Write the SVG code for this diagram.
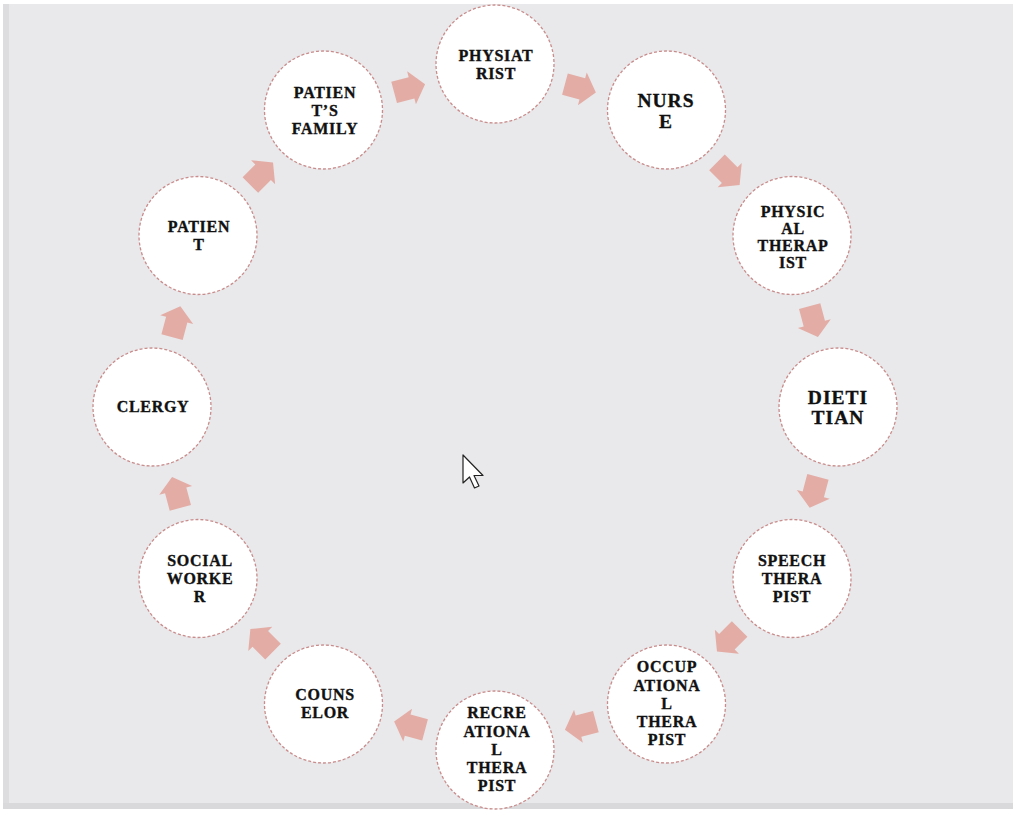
<svg xmlns="http://www.w3.org/2000/svg" width="1016" height="818" viewBox="0 0 1016 818">
<style>
.n{fill:#ffffff;stroke:#c98c8c;stroke-width:1.3;stroke-dasharray:3 2}
.t{font-family:"Liberation Serif","Times New Roman",serif;font-weight:bold;font-size:16px;letter-spacing:0.7px;fill:#111111;stroke:#111111;stroke-width:0.35;text-anchor:middle}
.b{font-size:19.5px;letter-spacing:1px}
.a{fill:#e3aca5}
</style>
<defs>
<path id="arr" d="M-16,-11 L2,-11 L2,-17 L16,0 L2,17 L2,11 L-16,11 Z"/>
</defs>
<rect x="0" y="0" width="1016" height="818" fill="#ffffff"/>
<rect x="3" y="4" width="1010" height="805" fill="#e9e8ea"/>
<rect x="3" y="4" width="6" height="805" fill="#dddcde"/>
<rect x="3" y="803" width="1010" height="6" fill="#d9d8da"/>
<g id="connectors">
<use href="#arr" class="a" transform="translate(580.4,88.3) rotate(15)"/>
<use href="#arr" class="a" transform="translate(728.3,173.7) rotate(45)"/>
<use href="#arr" class="a" transform="translate(813.8,321.6) rotate(75)"/>
<use href="#arr" class="a" transform="translate(813.8,492.4) rotate(105)"/>
<use href="#arr" class="a" transform="translate(728.3,640.3) rotate(135)"/>
<use href="#arr" class="a" transform="translate(580.4,725.7) rotate(165)"/>
<use href="#arr" class="a" transform="translate(409.6,725.7) rotate(195)"/>
<use href="#arr" class="a" transform="translate(261.7,640.3) rotate(225)"/>
<use href="#arr" class="a" transform="translate(176.2,492.4) rotate(255)"/>
<use href="#arr" class="a" transform="translate(176.2,321.6) rotate(285)"/>
<use href="#arr" class="a" transform="translate(261.7,173.7) rotate(315)"/>
<use href="#arr" class="a" transform="translate(409.6,88.3) rotate(345)"/>
</g>
<g id="physiatrist">
<circle class="n" cx="495" cy="64" r="59"/>
<text class="t" x="496" y="61">PHYSIAT</text>
<text class="t" x="496" y="79">RIST</text>
</g>
<g id="nurse">
<circle class="n" cx="666.5" cy="110" r="59"/>
<text class="t b" x="666" y="107">NURS</text>
<text class="t b" x="666" y="128">E</text>
</g>
<g id="physical-therapist">
<circle class="n" cx="792" cy="235.5" r="59"/>
<text class="t" x="793" y="216.5">PHYSIC</text>
<text class="t" x="793" y="233.5">AL</text>
<text class="t" x="793" y="250.5">THERAP</text>
<text class="t" x="793" y="267.5">IST</text>
</g>
<g id="dietitian">
<circle class="n" cx="838" cy="407" r="59"/>
<text class="t b" x="838" y="404">DIETI</text>
<text class="t b" x="838" y="424">TIAN</text>
</g>
<g id="speech-therapist">
<circle class="n" cx="792" cy="578.5" r="59"/>
<text class="t" x="792" y="566">SPEECH</text>
<text class="t" x="792" y="584">THERA</text>
<text class="t" x="792" y="602">PIST</text>
</g>
<g id="occupational-therapist">
<circle class="n" cx="666.5" cy="704" r="59"/>
<text class="t" x="667" y="672">OCCUP</text>
<text class="t" x="667" y="690.5">ATIONA</text>
<text class="t" x="667" y="709">L</text>
<text class="t" x="667" y="727">THERA</text>
<text class="t" x="667" y="745">PIST</text>
</g>
<g id="recreational-therapist">
<circle class="n" cx="495" cy="750" r="59"/>
<text class="t" x="497" y="718">RECRE</text>
<text class="t" x="497" y="737">ATIONA</text>
<text class="t" x="497" y="755">L</text>
<text class="t" x="497" y="773">THERA</text>
<text class="t" x="497" y="791">PIST</text>
</g>
<g id="counselor">
<circle class="n" cx="323.5" cy="704" r="59"/>
<text class="t" x="325" y="700">COUNS</text>
<text class="t" x="325" y="718">ELOR</text>
</g>
<g id="social-worker">
<circle class="n" cx="198" cy="578.5" r="59"/>
<text class="t" x="200" y="566">SOCIAL</text>
<text class="t" x="200" y="584">WORKE</text>
<text class="t" x="200" y="602">R</text>
</g>
<g id="clergy">
<circle class="n" cx="152" cy="407" r="59"/>
<text class="t" x="153" y="412">CLERGY</text>
</g>
<g id="patient">
<circle class="n" cx="198" cy="235.5" r="59"/>
<text class="t" x="199" y="232">PATIEN</text>
<text class="t" x="199" y="250">T</text>
</g>
<g id="patients-family">
<circle class="n" cx="323.5" cy="110" r="59"/>
<text class="t" x="325" y="98">PATIEN</text>
<text class="t" x="325" y="116">T’S</text>
<text class="t" x="325" y="134">FAMILY</text>
</g>
<path d="M463,455 L463,483 L469.5,477 L474.5,488 L479,486 L474,475.5 L483,475.5 Z" fill="#ffffff" stroke="#222222" stroke-width="1.2" stroke-linejoin="round"/>
</svg>
